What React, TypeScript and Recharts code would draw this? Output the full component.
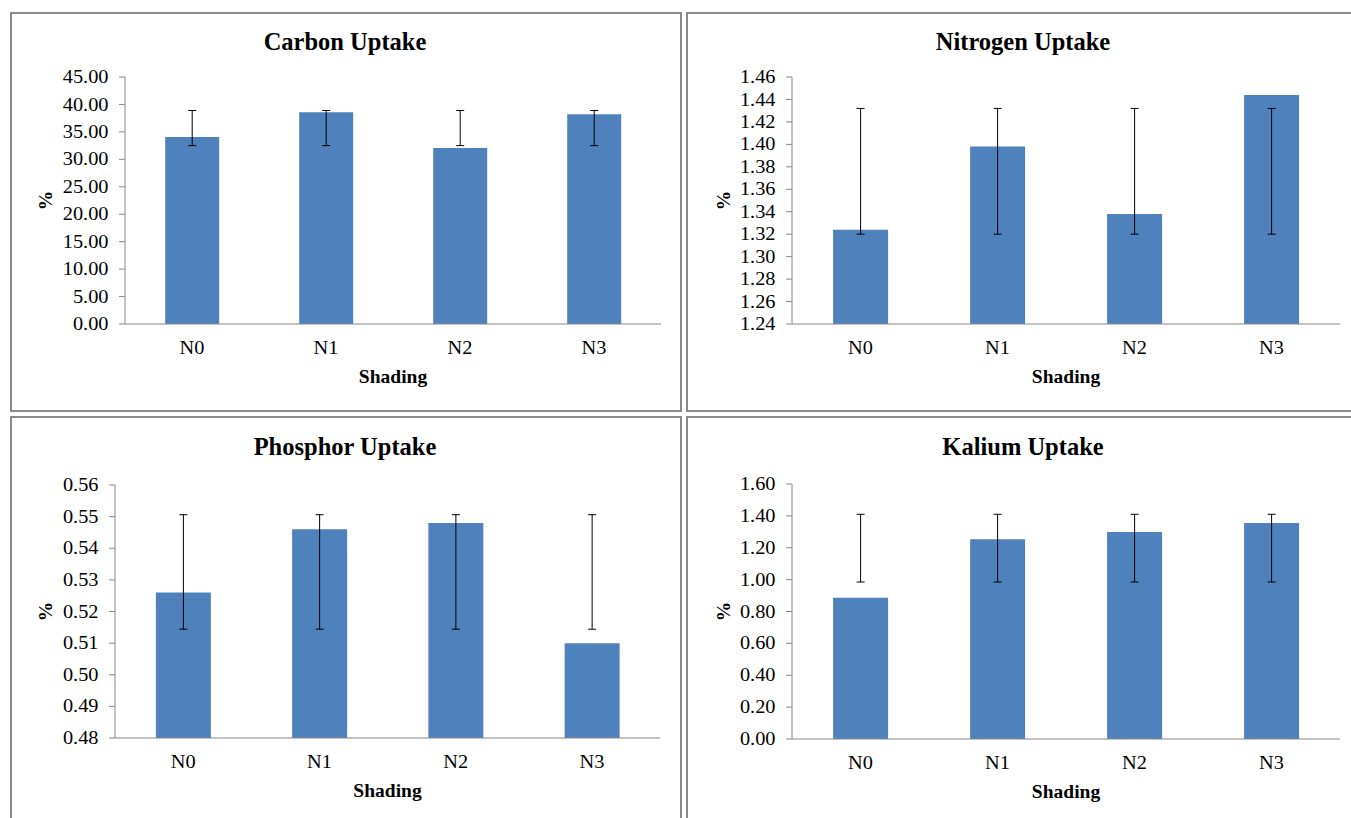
import React from 'react';
import { BarChart, Bar, XAxis, YAxis, ErrorBar, Label } from 'recharts';

const FONT = 'Liberation Serif';
const BAR_COLOR = '#4F81BD';
const AXIS_COLOR = '#868686';
const BORDER_COLOR = '#8a8a8a';

const categories = ['N0', 'N1', 'N2', 'N3'];

const carbonValues = [34.05, 38.6, 32.05, 38.2];
const carbonErrLow = [32.5, 32.5, 32.5, 32.5];
const carbonErrHigh = [38.9, 38.9, 38.9, 38.9];
const carbonTicks = [0, 5, 10, 15, 20, 25, 30, 35, 40, 45];

const nitrogenValues = [1.324, 1.398, 1.338, 1.444];
const nitrogenErrLow = [1.32, 1.32, 1.32, 1.32];
const nitrogenErrHigh = [1.432, 1.432, 1.432, 1.432];
const nitrogenTicks = [1.24, 1.26, 1.28, 1.3, 1.32, 1.34, 1.36, 1.38, 1.4, 1.42, 1.44, 1.46];

const phosphorValues = [0.526, 0.546, 0.548, 0.51];
const phosphorErrLow = [0.5144, 0.5144, 0.5144, 0.5144];
const phosphorErrHigh = [0.5506, 0.5506, 0.5506, 0.5506];
const phosphorTicks = [0.48, 0.49, 0.5, 0.51, 0.52, 0.53, 0.54, 0.55, 0.56];

const kaliumValues = [0.887, 1.253, 1.299, 1.356];
const kaliumErrLow = [0.985, 0.985, 0.985, 0.985];
const kaliumErrHigh = [1.41, 1.41, 1.41, 1.41];
const kaliumTicks = [0, 0.2, 0.4, 0.6, 0.8, 1.0, 1.2, 1.4, 1.6];

type Box = { left: number; top: number; width: number; height: number };
type Plot = { L: number; R: number; T: number; B: number };

function buildData(values: number[], lo: number[], hi: number[]) {
  return categories.map((c, i) => ({
    name: c,
    value: values[i],
    err: [values[i] - lo[i], hi[i] - values[i]],
  }));
}

const Y_AXIS_W = 90;
const X_AXIS_H = 70;
const TICK_SIZE = 18;
const TICK_STRETCH = 1.13;
const LABEL_SIZE = 19.5;

function YTick(p: any) {
  return (
    <text
      transform={`translate(${p.x}, ${p.y}) scale(${TICK_STRETCH}, 1)`}
      x={0}
      y={0}
      dy="0.34em"
      textAnchor="end"
      fontSize={TICK_SIZE}
      fontFamily={FONT}
      fill="#000"
    >
      {Number(p.payload.value).toFixed(2)}
    </text>
  );
}

function XTick(p: any) {
  return (
    <text
      transform={`translate(${p.x}, ${p.y}) scale(${TICK_STRETCH}, 1)`}
      x={0}
      y={0}
      dy="0.71em"
      textAnchor="middle"
      fontSize={TICK_SIZE}
      fontFamily={FONT}
      fill="#000"
    >
      {p.payload.value}
    </text>
  );
}

function Panel(props: {
  title: string;
  values: number[];
  lo: number[];
  hi: number[];
  ticks: number[];
  box: Box;
  border: Box;
  plot: Plot;
  pctX: number;
  titleBaseline: number;
}) {
  const { title, values, lo, hi, ticks, box, border, plot, pctX, titleBaseline } = props;
  const data = buildData(values, lo, hi);
  const margin = {
    left: plot.L - box.left - Y_AXIS_W,
    top: plot.T - box.top,
    right: box.left + box.width - plot.R,
    bottom: box.top + box.height - plot.B - X_AXIS_H,
  };
  const pctXc = pctX - box.left;
  const pctYc = (plot.T + plot.B) / 2 - box.top;
  const shX = (plot.L + plot.R) / 2 - box.left;
  const shY = plot.B + 59 - box.top;
  const titleSize = 24.5;
  return (
    <>
      <div
        style={{
          position: 'absolute',
          left: border.left,
          top: border.top,
          width: border.width,
          height: border.height,
          border: `2px solid ${BORDER_COLOR}`,
          boxSizing: 'border-box',
        }}
      />
      <div style={{ position: 'absolute', left: box.left, top: box.top, width: box.width, height: box.height }}>
        <BarChart width={box.width} height={box.height} data={data} margin={margin} barCategoryGap="30%">
          <XAxis
            dataKey="name"
            height={X_AXIS_H}
            tickLine={false}
            tickSize={0}
            tickMargin={17}
            axisLine={{ stroke: AXIS_COLOR, strokeWidth: 1 }}
            tick={XTick}
          >
            <Label
              content={() => (
                <text x={shX} y={shY} textAnchor="middle" fontWeight="bold" fontSize={LABEL_SIZE} fontFamily={FONT} fill="#000">
                  Shading
                </text>
              )}
            />
          </XAxis>
          <YAxis
            width={Y_AXIS_W}
            type="number"
            domain={[ticks[0], ticks[ticks.length - 1]]}
            ticks={ticks}
            interval={0}
            allowDataOverflow
            tickSize={6}
            tickMargin={10.5}
            axisLine={{ stroke: AXIS_COLOR, strokeWidth: 1 }}
            tickLine={{ stroke: AXIS_COLOR, strokeWidth: 1 }}
            tick={YTick}
          >
            <Label
              content={() => (
                <text
                  x={pctXc}
                  y={pctYc}
                  textAnchor="middle"
                  transform={`rotate(-90, ${pctXc}, ${pctYc})`}
                  fontWeight="bold"
                  fontSize={LABEL_SIZE}
                  fontFamily={FONT}
                  fill="#000"
                >
                  %
                </text>
              )}
            />
          </YAxis>
          <Bar dataKey="value" fill={BAR_COLOR} isAnimationActive={false}>
            <ErrorBar dataKey="err" direction="y" width={4} stroke="#000" strokeWidth={1} isAnimationActive={false} />
          </Bar>
        </BarChart>
      </div>
      <div
        style={{
          position: 'absolute',
          left: box.left,
          width: box.width,
          top: titleBaseline - 20.5,
          height: titleSize,
          lineHeight: `${titleSize}px`,
          textAlign: 'center',
          fontFamily: FONT,
          fontWeight: 'bold',
          fontSize: titleSize,
          color: '#000',
          whiteSpace: 'nowrap',
        }}
      >
        {title}
      </div>
    </>
  );
}

export default function App() {
  return (
    <div
      style={{
        position: 'absolute',
        left: 0,
        top: 0,
        width: 1351,
        height: 818,
        overflow: 'hidden',
        background: '#fff',
      }}
    >
      <Panel
        title="Carbon Uptake"
        values={carbonValues}
        lo={carbonErrLow}
        hi={carbonErrHigh}
        ticks={carbonTicks}
        box={{ left: 10, top: 13, width: 670, height: 397 }}
        border={{ left: 10, top: 12, width: 672, height: 400 }}
        plot={{ L: 125, R: 661, T: 77, B: 324 }}
        pctX={52}
        titleBaseline={50}
      />
      <Panel
        title="Nitrogen Uptake"
        values={nitrogenValues}
        lo={nitrogenErrLow}
        hi={nitrogenErrHigh}
        ticks={nitrogenTicks}
        box={{ left: 687, top: 13, width: 672, height: 397 }}
        border={{ left: 686, top: 12, width: 700, height: 400 }}
        plot={{ L: 792, R: 1340, T: 77, B: 324 }}
        pctX={730}
        titleBaseline={50}
      />
      <Panel
        title="Phosphor Uptake"
        values={phosphorValues}
        lo={phosphorErrLow}
        hi={phosphorErrHigh}
        ticks={phosphorTicks}
        box={{ left: 10, top: 418, width: 670, height: 400 }}
        border={{ left: 10, top: 416, width: 672, height: 420 }}
        plot={{ L: 115, R: 660, T: 485, B: 738 }}
        pctX={52}
        titleBaseline={455.5}
      />
      <Panel
        title="Kalium Uptake"
        values={kaliumValues}
        lo={kaliumErrLow}
        hi={kaliumErrHigh}
        ticks={kaliumTicks}
        box={{ left: 687, top: 418, width: 672, height: 400 }}
        border={{ left: 686, top: 416, width: 700, height: 420 }}
        plot={{ L: 792, R: 1340, T: 484, B: 739 }}
        pctX={730}
        titleBaseline={455.5}
      />
    </div>
  );
}
